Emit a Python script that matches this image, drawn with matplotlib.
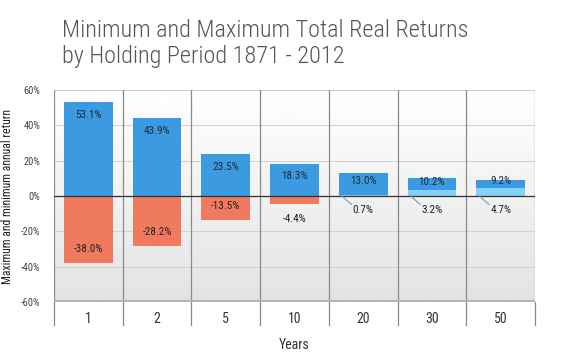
import numpy as np
import matplotlib
matplotlib.use("Agg")
import matplotlib.pyplot as plt

# Data
periods = ["1", "2", "5", "10", "20", "30", "50"]
max_returns = [53.1, 43.9, 23.5, 18.3, 13.0, 10.2, 9.2]
min_returns = [-38.0, -28.2, -13.5, -4.4, 0.7, 3.2, 4.7]
y_ticks = [-60, -40, -20, 0, 20, 40, 60]

plt.rcParams["font.family"] = ["Roboto Condensed", "DejaVu Sans"]

BLUE = "#3c9be0"
RED = "#f07a60"
LIGHT = "#86d0f5"

fig = plt.figure(figsize=(5.75, 3.56), dpi=100)
ax = fig.add_axes([54 / 575, 1 - 302 / 356, (535 - 54) / 575, (302 - 90) / 356])

x = np.arange(len(periods))
w = 0.71

# gradient background
grad = np.linspace(1.0, 0.89, 256).reshape(-1, 1)
ax.imshow(grad, cmap="gray", vmin=0, vmax=1, aspect="auto",
          extent=[-0.5, len(periods) - 0.5, -60, 60], zorder=0)

for yv in y_ticks:
    ax.axhline(yv, color="#d2d2d2", lw=0.8, zorder=1)
for b in np.arange(len(periods) + 1) - 0.5:
    ax.plot([b, b], [-60, 60], color="#8a8a8a", lw=0.9, zorder=1)
    ax.plot([b, b], [-60, -73], color="#8a8a8a", lw=0.9, zorder=1, clip_on=False)

ax.bar(x, max_returns, width=w, color=BLUE, zorder=2)
for xi, lo in zip(x, min_returns):
    ax.bar(xi, lo, width=w, color=RED if lo < 0 else LIGHT, zorder=3)

ax.axhline(0, color="#333333", lw=0.9, zorder=4)
ax.axhline(-60, color="#b4b4b4", lw=3, zorder=4)

for xi, hi, lo in zip(x, max_returns, min_returns):
    base = max(lo, 0)
    ytxt = hi - 7 if hi > 15 else (hi + base) / 2 + 1.5
    ax.text(xi, ytxt, f"{hi:.1f}%", ha="center", va="center", fontsize=8,
            color="#1e2a3a", zorder=5)
    if lo < -10:
        ax.text(xi, lo + 8, f"{lo:.1f}%", ha="center", va="center", fontsize=8,
                color="#222222", zorder=5)
    elif lo < 0:
        ax.text(xi, lo - 8.6, f"{lo:.1f}%", ha="center", va="center", fontsize=8,
                color="#222222", zorder=5)
    else:
        ax.plot([xi - 0.31, xi - 0.17], [0, -4.8], color="#6aa0c0", lw=0.8, zorder=5)
        ax.text(xi, -8, f"{lo:.1f}%", ha="center", va="center", fontsize=8,
                color="#222222", zorder=5)

ax.set_xlim(-0.5, len(periods) - 0.5)
ax.set_ylim(-60, 60)
ax.set_xticks(x)
ax.set_xticklabels(periods, fontsize=10, color="#333333")
ax.set_yticks(y_ticks)
ax.set_yticklabels([f"{v}%" for v in y_ticks], fontsize=7.5, color="#444444")
ax.tick_params(axis="both", length=0)
ax.tick_params(axis="x", pad=7)
ax.tick_params(axis="y", pad=10)
for s in ax.spines.values():
    s.set_visible(False)

ax.set_xlabel("Years", fontsize=10, color="#333333", labelpad=9)
ax.set_ylabel("Maximum and minimum annual return", fontsize=8.5, color="#222222",
              labelpad=5)

fig.text(62 / 575, 1 - 36.7 / 356, "Minimum and Maximum Total Real Returns",
         ha="left", va="baseline", fontsize=17.5, fontweight=300, color="#555555")
fig.text(62 / 575, 1 - 63 / 356, "by Holding Period 1871 - 2012",
         ha="left", va="baseline", fontsize=17.5, fontweight=300, color="#555555")

fig.savefig("out.png", dpi=100)
